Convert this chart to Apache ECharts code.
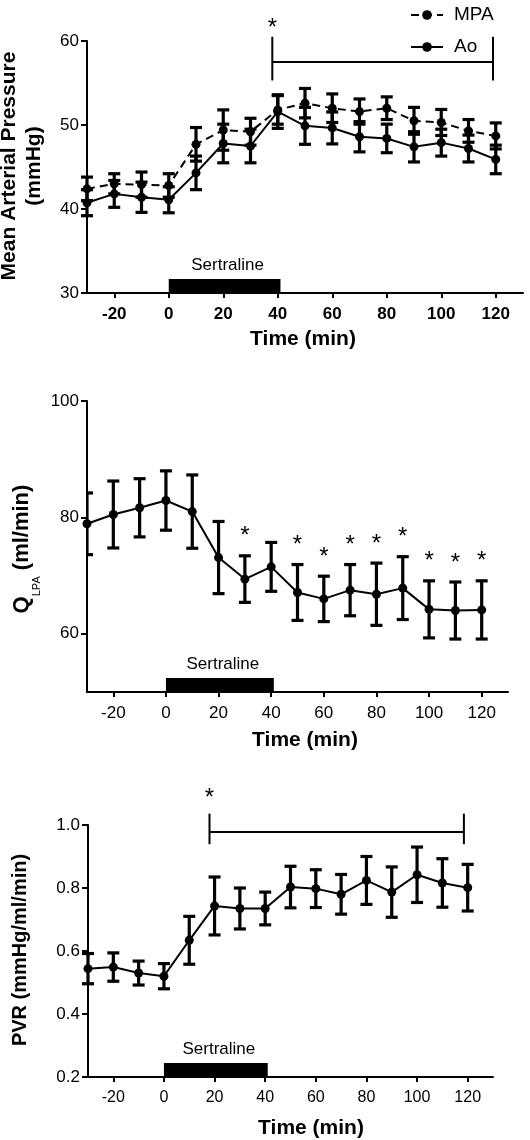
<!DOCTYPE html>
<html><head><meta charset="utf-8">
<script src="https://cdn.jsdelivr.net/npm/echarts@6/dist/echarts.min.js"></script>
<style>html,body{margin:0;padding:0;background:#fff}#c{width:530px;height:1140px}</style>
</head><body><div id="c"></div>
<script>
const times = [-30,-20,-10,0,10,20,30,40,50,60,70,80,90,100,110,120];
const mpaMean = [42.4,43.0,42.9,42.8,47.7,49.4,49.2,51.8,52.6,52.0,51.6,52.0,50.5,50.3,49.3,48.7];
const mpaErr  = [1.4,1.2,1.5,1.4,2.0,2.4,1.6,1.7,1.75,1.7,1.5,1.35,1.6,1.55,1.35,1.55];
const aoMean  = [40.75,41.8,41.4,41.1,44.3,47.8,47.5,51.6,49.9,49.65,48.6,48.4,47.4,47.9,47.2,45.9];
const aoErr   = [1.55,1.6,1.8,1.55,2.0,2.3,2.0,2.0,2.2,1.9,1.8,1.7,1.8,1.6,1.6,1.7];
const qMean   = [78.9,80.5,81.65,82.9,81.0,73.1,69.4,71.5,67.1,66.0,67.5,66.8,67.85,64.2,64.0,64.1];
const qErr    = [5.3,5.75,5.0,5.1,6.3,6.2,4.0,4.2,4.8,3.9,4.4,5.35,5.4,4.9,4.9,5.0];
const qStarTimes = [30,50,60,70,80,90,100,110,120];
const pvrMean = [0.544,0.549,0.530,0.520,0.634,0.743,0.735,0.735,0.803,0.798,0.780,0.824,0.787,0.842,0.816,0.801];
const pvrErr  = [0.048,0.045,0.038,0.040,0.076,0.092,0.065,0.052,0.066,0.060,0.063,0.076,0.080,0.088,0.077,0.074];
const xTicks = [-20,0,20,40,60,80,100,120];
const mapTicks = [30,40,50,60];
const qTicks = [60,80,100];
const pvrTicks = [0.2,0.4,0.6,0.8,1.0];
const sertraline = [0, 41];
const mapBracket = {x:[38,119], y:57.5, top:60.5, bottom:55.3, star:61.5};
const pvrBracket = {x:[18,118.5], y:0.978, top:1.036, bottom:0.939, star:1.085};

const FONT = "'Liberation Sans', Arial, sans-serif";
const chart = echarts.init(document.getElementById('c'), null, {renderer:'canvas'});

function xAxis(gi, bold, fs) {
  return {type:'value', gridIndex:gi, min:-30, max:130,
    axisLine:{show:true, onZero:false, lineStyle:{color:'#000', width:2}},
    axisTick:{show:true, length:5, lineStyle:{color:'#000', width:2}, customValues:xTicks},
    axisLabel:{customValues:xTicks, margin:13, fontSize:fs, fontWeight:bold?'bold':'normal', color:'#000', fontFamily:FONT},
    splitLine:{show:false}};
}
function yAxis(gi, min, max, ticks, fmt) {
  return {type:'value', gridIndex:gi, min:min, max:max,
    axisLine:{show:true, onZero:false, lineStyle:{color:'#000', width:2}},
    axisTick:{show:true, length:6, lineStyle:{color:'#000', width:2}, customValues:ticks},
    axisLabel:{customValues:ticks, margin:8, fontSize:17, color:'#000', fontFamily:FONT, formatter:fmt},
    splitLine:{show:false}};
}
function lineSeries(name, gi, means, dashed) {
  return {type:'line', name:name, xAxisIndex:gi, yAxisIndex:gi, z:5,
    data: times.map((t,i)=>[t, means[i]]),
    symbol:'circle', symbolSize:9, showSymbol:true,
    lineStyle:{color:'#000', width:2, type: dashed ? [8,5] : 'solid'},
    itemStyle:{color:'#000'}, emphasis:{disabled:true}, animation:false};
}
function errSeries(gi, means, errs, clip, stars) {
  return {type:'custom', xAxisIndex:gi, yAxisIndex:gi, z:4, clip:clip, silent:true,
    data: times.map((t,i)=>[t, means[i], errs[i]]),
    encode:{x:0, y:1},
    renderItem(params, api) {
      const x = api.value(0), m = api.value(1), e = api.value(2);
      const top = api.coord([x, m+e]), bot = api.coord([x, m-e]);
      const hw = 6, st = {stroke:'#000', lineWidth:3.2};
      const ch = [
        {type:'line', shape:{x1:top[0],y1:top[1],x2:bot[0],y2:bot[1]}, style:st},
        {type:'line', shape:{x1:top[0]-hw,y1:top[1],x2:top[0]+hw,y2:top[1]}, style:st},
        {type:'line', shape:{x1:bot[0]-hw,y1:bot[1],x2:bot[0]+hw,y2:bot[1]}, style:st}
      ];
      if (stars && stars.indexOf(x) >= 0) {
        ch.push({type:'text', x:top[0], y:top[1]-19, style:{text:'*', fontSize:24, fontFamily:FONT, fill:'#000', align:'center', verticalAlign:'middle'}});
      }
      return {type:'group', children:ch};
    }};
}
function sertSeries(gi, ymin) {
  return {type:'custom', xAxisIndex:gi, yAxisIndex:gi, z:6, silent:true, clip:false,
    data:[[sertraline[0], sertraline[1], ymin]],
    renderItem(params, api) {
      const a = api.coord([api.value(0), api.value(2)]);
      const b = api.coord([api.value(1), api.value(2)]);
      return {type:'group', children:[
        {type:'rect', shape:{x:a[0], y:a[1]-14, width:b[0]-a[0], height:14}, style:{fill:'#000'}},
        {type:'text', x:(a[0]+b[0])/2+3, y:a[1]-28, style:{text:'Sertraline', fontSize:17, fontFamily:FONT, fill:'#000', align:'center', verticalAlign:'middle'}}
      ]};
    }};
}
function bracketSeries(gi, br) {
  return {type:'custom', xAxisIndex:gi, yAxisIndex:gi, z:6, silent:true, clip:false,
    data:[[br.x[0], br.x[1], br.y, br.top, br.bottom, br.star]],
    renderItem(params, api) {
      const x1 = api.value(0), x2 = api.value(1), y = api.value(2), t = api.value(3), b = api.value(4), s = api.value(5);
      const l1 = api.coord([x1, t]), l2 = api.coord([x1, b]);
      const r1 = api.coord([x2, t]), r2 = api.coord([x2, b]);
      const h1 = api.coord([x1, y]), h2 = api.coord([x2, y]);
      const sp = api.coord([x1, s]);
      const st = {stroke:'#000', lineWidth:2};
      return {type:'group', children:[
        {type:'line', shape:{x1:l1[0],y1:l1[1],x2:l2[0],y2:l2[1]}, style:st},
        {type:'line', shape:{x1:r1[0],y1:r1[1],x2:r2[0],y2:r2[1]}, style:st},
        {type:'line', shape:{x1:h1[0],y1:h1[1],x2:h2[0],y2:h2[1]}, style:st},
        {type:'text', x:sp[0], y:sp[1], style:{text:'*', fontSize:24, fontFamily:FONT, fill:'#000', align:'center', verticalAlign:'middle'}}
      ]};
    }};
}

const titleStyle = {fontFamily:FONT, fontWeight:'bold', fill:'#000', align:'center', verticalAlign:'middle'};

chart.setOption({
  animation:false,
  backgroundColor:'#fff',
  grid:[
    {left:87, right:7, top:41, height:252},
    {left:87, right:22, top:401, height:291},
    {left:88, right:37, top:825, height:252}
  ],
  xAxis:[xAxis(0,true,17), xAxis(1,false,17), xAxis(2,false,16)],
  yAxis:[
    yAxis(0,30,60,mapTicks),
    yAxis(1,50,100,qTicks),
    yAxis(2,0.2,1.0,pvrTicks, v=>v.toFixed(1))
  ],
  legend:{data:['MPA','Ao'], orient:'vertical', left:405, top:0, itemWidth:32, itemHeight:12, itemGap:12,
    selectedMode:false, textStyle:{fontSize:19, fontFamily:FONT, color:'#000', lineHeight:20, padding:[0,0,0,6]}},
  series:[
    errSeries(0, mpaMean, mpaErr, false),
    errSeries(0, aoMean, aoErr, false),
    lineSeries('MPA', 0, mpaMean, true),
    lineSeries('Ao', 0, aoMean, false),
    sertSeries(0, 30),
    bracketSeries(0, mapBracket),
    errSeries(1, qMean, qErr, true, qStarTimes),
    lineSeries('Q', 1, qMean, false),
    sertSeries(1, 50),
    errSeries(2, pvrMean, pvrErr, false),
    lineSeries('PVR', 2, pvrMean, false),
    sertSeries(2, 0.2),
    bracketSeries(2, pvrBracket)
  ],
  graphic:[
    {type:'text', x:22, y:166, rotation:Math.PI/2, style:Object.assign({text:'Mean Arterial Pressure\n(mmHg)', fontSize:21, lineHeight:25}, titleStyle)},
    {type:'text', x:303, y:339, style:Object.assign({text:'Time (min)', fontSize:21}, titleStyle)},
    {type:'text', x:22, y:549, rotation:Math.PI/2, style:Object.assign({text:'{a|Q}{s|LPA}{a| (ml/min)}', fontSize:22,
      rich:{a:{fontSize:22, fontWeight:'bold', fontFamily:FONT, lineHeight:26, verticalAlign:'middle'},
            s:{fontSize:11, fontFamily:FONT, lineHeight:11, verticalAlign:'top', padding:[22,0,0,0]}}}, titleStyle)},
    {type:'text', x:305, y:740, style:Object.assign({text:'Time (min)', fontSize:21}, titleStyle)},
    {type:'text', x:20, y:950, rotation:Math.PI/2, style:Object.assign({text:'PVR (mmHg/ml/min)', fontSize:20}, titleStyle)},
    {type:'text', x:311, y:1128, style:Object.assign({text:'Time (min)', fontSize:21}, titleStyle)}
  ]
});
</script></body></html>
